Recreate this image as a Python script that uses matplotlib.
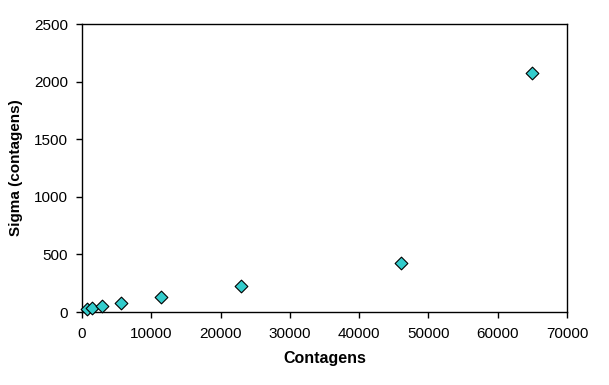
import matplotlib
matplotlib.use("Agg")
import matplotlib.pyplot as plt

contagens = [700, 1450, 2900, 5700, 11400, 22900, 46100, 64900]
sigma = [22, 36, 54, 78, 128, 225, 425, 2075]

x_ticks = [0, 10000, 20000, 30000, 40000, 50000, 60000, 70000]
y_ticks = [0, 500, 1000, 1500, 2000, 2500]

plt.rcParams['font.family'] = ['Liberation Sans', 'DejaVu Sans']

fig = plt.figure(figsize=(6.09, 3.85), dpi=100)
ax = fig.add_axes([82 / 609, 73 / 385, 485 / 609, 288 / 385])

ax.scatter(contagens, sigma, marker='D', s=42, color='#33CCCC',
           edgecolors='black', linewidths=0.8, zorder=3, clip_on=False)

ax.set_xlim(0, 70000)
ax.set_ylim(0, 2500)
ax.set_xticks(x_ticks)
ax.set_yticks(y_ticks)
ax.tick_params(axis='both', direction='out', length=4, width=1, labelsize=11)
ax.tick_params(axis='x', pad=7)
ax.tick_params(axis='y', pad=6)

ax.set_xlabel("Contagens", fontsize=11.5, fontweight='bold', labelpad=7)
ax.set_ylabel("Sigma (contagens)", fontsize=11, fontweight='bold', labelpad=8)

for s in ax.spines.values():
    s.set_linewidth(1)

fig.savefig("out.png", dpi=100)
